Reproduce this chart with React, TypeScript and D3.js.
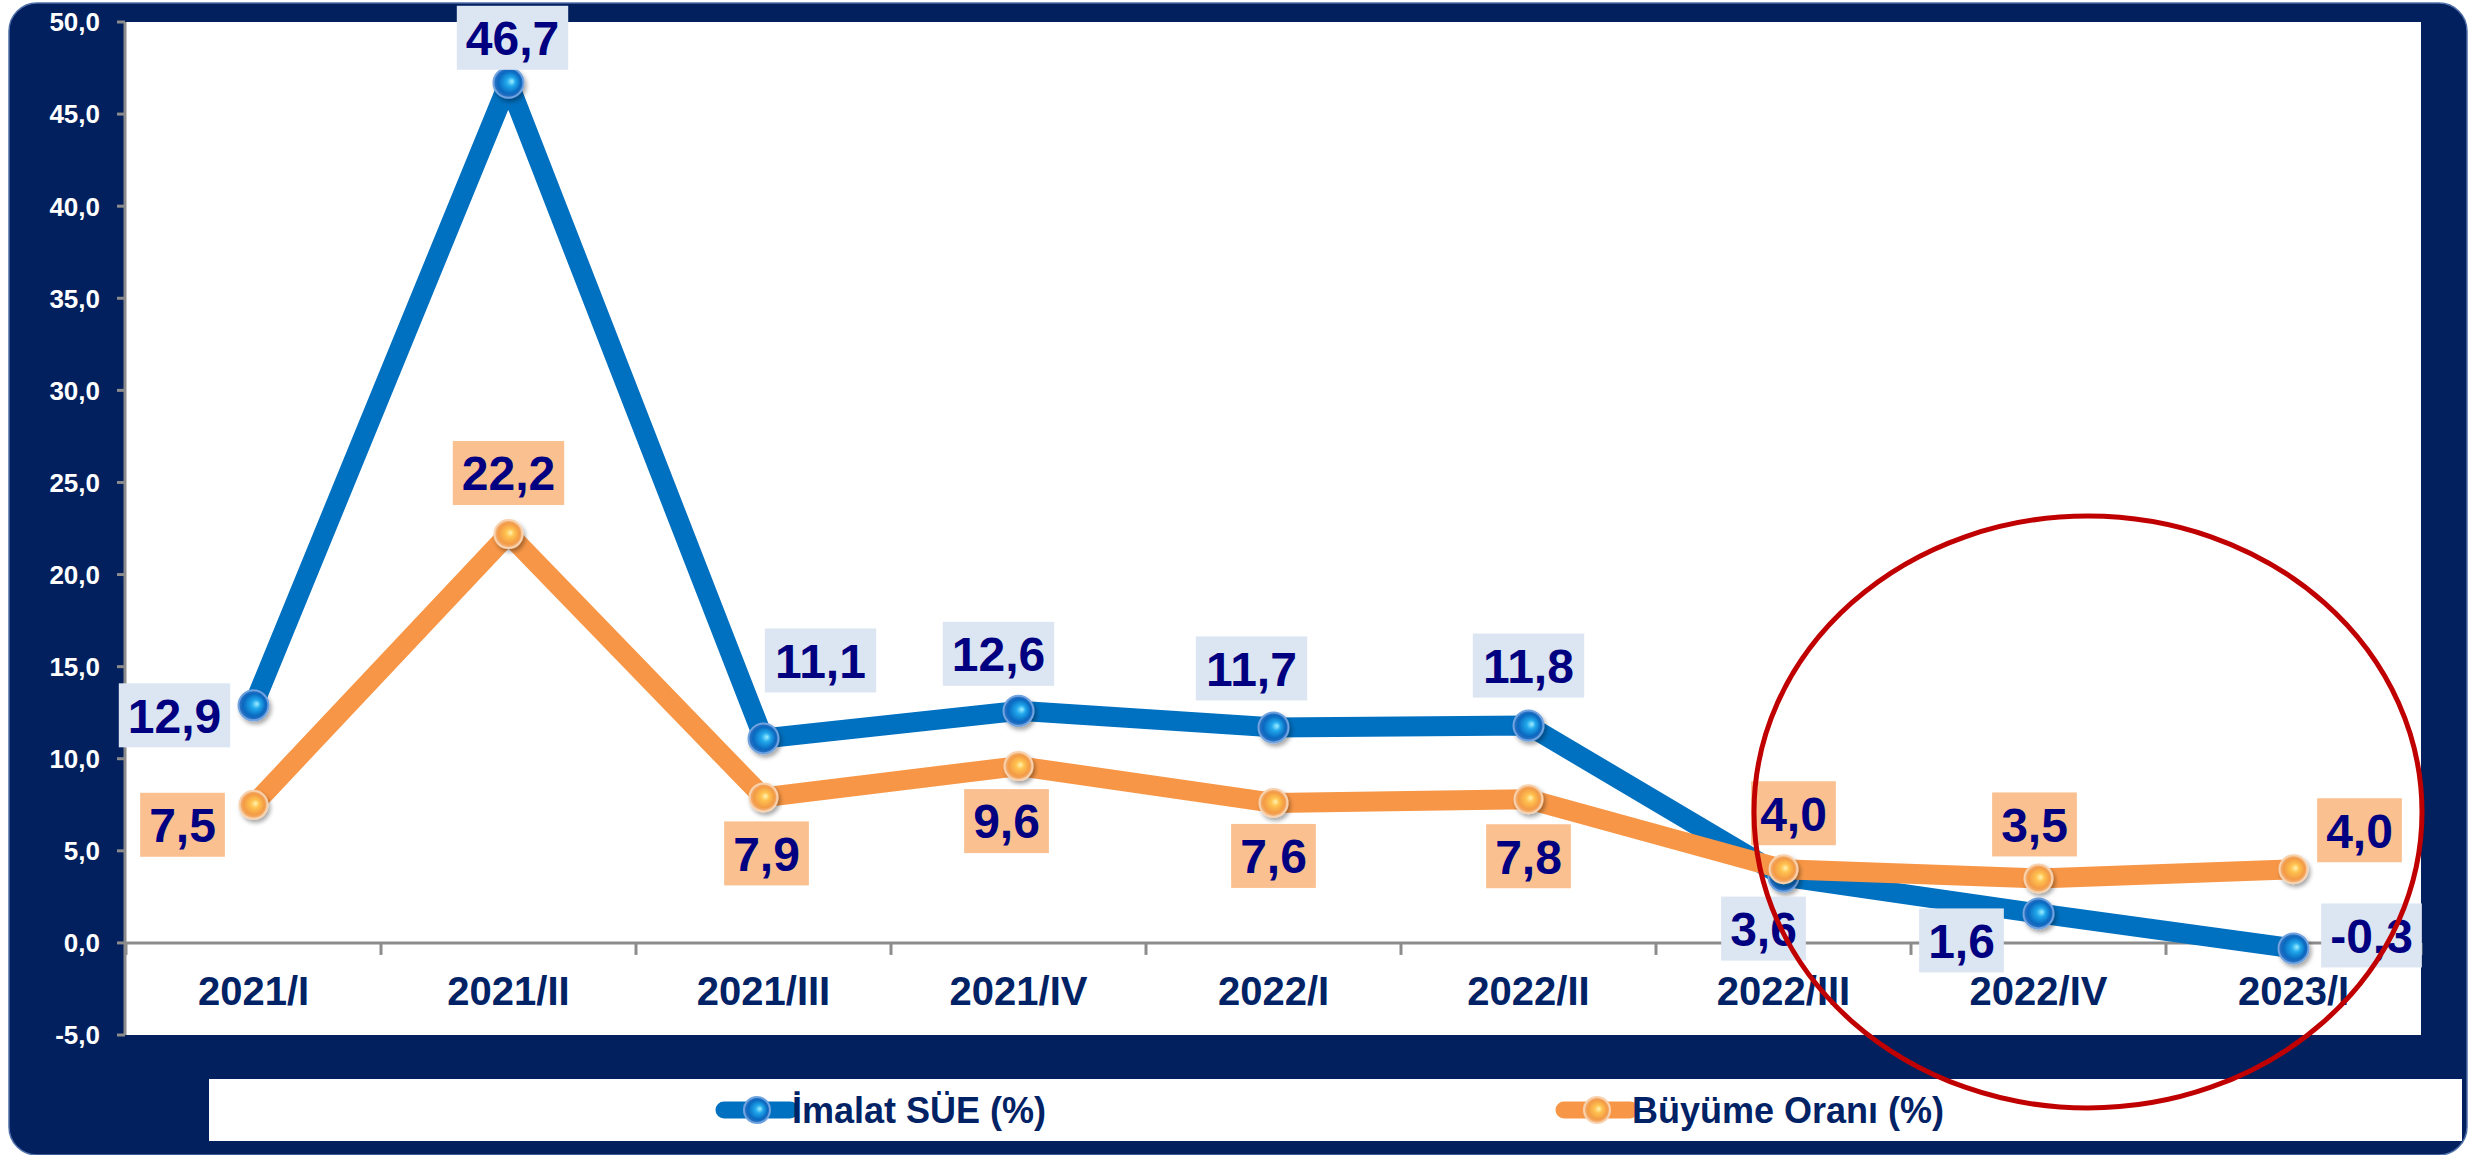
import React from 'react';
import * as d3 from 'd3';

const categories = ['2021/I', '2021/II', '2021/III', '2021/IV', '2022/I', '2022/II', '2022/III', '2022/IV', '2023/I'];
const imalatSUE = [12.9, 46.7, 11.1, 12.6, 11.7, 11.8, 3.6, 1.6, -0.3];
const buyumeOrani = [7.5, 22.2, 7.9, 9.6, 7.6, 7.8, 4.0, 3.5, 4.0];
const yTicks = [-5, 0, 5, 10, 15, 20, 25, 30, 35, 40, 45, 50];
const seriesNames = ['İmalat SÜE (%)', 'Büyüme Oranı (%)'];

// label box offsets from the point (layout only)
const imalatLabelOffsets = [[-79, 10], [4, -45], [57, -78], [-20, -57], [-22, -59], [0, -60], [-20, 52], [-77, 27], [78, -13]];
const buyumeLabelOffsets = [[-71, 20], [0, -61], [3, 56], [-12, 55], [0, 53], [0, 57], [10, -56], [-4, -54], [66, -39]];

const W = 2471;
const H = 1155;
const NAVY = '#021F5E';
const BLUE = '#0070C0';
const ORANGE = '#F79646';
const LABEL_TEXT = '#000080';
const FONT = '"Liberation Sans", Arial, sans-serif';

const fmt = (v: number) => d3.format('.1f')(v).replace('.', ',').replace('\u2212', '-');
const charW: Record<string, number> = { '-': 0.333, ',': 0.278 };
const textAdv = (s: string) => s.split('').reduce((a, c) => a + (charW[c] ?? 0.556), 0);

export default function App() {
  const x = d3.scaleBand<string>().domain(categories).range([126, 2421]);
  const y = d3.scaleLinear().domain([-5, 50]).range([1035, 22]);
  const bw = x.bandwidth();
  const cx = (c: string) => (x(c) as number) + bw / 2;

  const line = d3
    .line<number>()
    .x((_, i) => cx(categories[i]))
    .y((d) => y(d));

  const labelFs = 48;

  const renderLabels = (vals: number[], offs: number[][], fill: string, key: string) =>
    vals.map((v, i) => {
      const t = fmt(v);
      const px = cx(categories[i]) + offs[i][0];
      const py = y(v) + offs[i][1];
      const w = textAdv(t) * labelFs + 18;
      const h = 64;
      return (
        <g key={key + i}>
          <rect x={px - w / 2} y={py - h / 2} width={w} height={h} fill={fill} />
          <text
            x={px}
            y={py}
            dy="0.36em"
            textAnchor="middle"
            fontFamily={FONT}
            fontWeight="bold"
            fontSize={labelFs}
            fill={LABEL_TEXT}
          >
            {t}
          </text>
        </g>
      );
    });

  const bandEdges = categories.map((c) => x(c) as number).concat([x.range()[1]]);

  return (
    <svg width={W} height={H} style={{ position: 'absolute', left: 0, top: 0 }}>
      <defs>
        <radialGradient id="gBlue" cx="50%" cy="50%" r="50%" fx="62%" fy="45%">
          <stop offset="0%" stopColor="#9FEFFF" />
          <stop offset="30%" stopColor="#22A8EC" />
          <stop offset="75%" stopColor="#0868BF" />
          <stop offset="100%" stopColor="#3A74C4" />
        </radialGradient>
        <radialGradient id="gOrange" cx="50%" cy="50%" r="50%" fx="58%" fy="45%">
          <stop offset="0%" stopColor="#FFF4B0" />
          <stop offset="30%" stopColor="#FFC250" />
          <stop offset="75%" stopColor="#F39A45" />
          <stop offset="100%" stopColor="#F2B98A" />
        </radialGradient>
        <filter id="shadow" x="-50%" y="-50%" width="200%" height="200%">
          <feDropShadow dx="2" dy="3" stdDeviation="2" floodColor="#000" floodOpacity="0.35" />
        </filter>
      </defs>

      {/* frame */}
      <rect x={9} y={3} width={2458} height={1152} rx={28} ry={28} fill={NAVY} stroke="#4F6FA8" strokeWidth={1.5} />

      {/* plot area */}
      <rect x={126} y={22} width={2295} height={1013} fill="#FFFFFF" />

      {/* legend box */}
      <rect x={209} y={1079} width={2253} height={62} fill="#FFFFFF" />

      {/* y axis */}
      <line x1={125} x2={125} y1={y(50)} y2={y(-5)} stroke="#8C8C8C" strokeWidth={3} />
      {yTicks.map((t) => (
        <g key={'yt' + t}>
          <line x1={117} x2={125} y1={y(t)} y2={y(t)} stroke="#8C8C8C" strokeWidth={3} />
          <text
            x={100}
            y={y(t)}
            dy="0.36em"
            textAnchor="end"
            fontFamily={FONT}
            fontWeight="bold"
            fontSize={26}
            fill="#FFFFFF"
          >
            {fmt(t)}
          </text>
        </g>
      ))}

      {/* zero axis line */}
      <line x1={125} x2={2421} y1={y(0)} y2={y(0)} stroke="#8C8C8C" strokeWidth={3} />
      {bandEdges.map((e, i) => (
        <line key={'xt' + i} x1={e} x2={e} y1={y(0)} y2={y(0) + 12} stroke="#8C8C8C" strokeWidth={3} />
      ))}
      {categories.map((c) => (
        <text
          key={'xl' + c}
          x={cx(c)}
          y={1005}
          textAnchor="middle"
          fontFamily={FONT}
          fontWeight="bold"
          fontSize={40}
          fill="#022266"
        >
          {c}
        </text>
      ))}

      {/* series lines */}
      <path d={line(imalatSUE) as string} fill="none" stroke={BLUE} strokeWidth={20} strokeLinejoin="round" />
      {imalatSUE.map((v, i) => (
        <circle
          key={'bm' + i}
          cx={cx(categories[i])}
          cy={y(v)}
          r={15}
          fill="url(#gBlue)"
          stroke="#6FA3E0"
          strokeWidth={2}
          filter="url(#shadow)"
        />
      ))}
      <path d={line(buyumeOrani) as string} fill="none" stroke={ORANGE} strokeWidth={20} strokeLinejoin="round" />
      {buyumeOrani.map((v, i) => (
        <circle
          key={'om' + i}
          cx={cx(categories[i])}
          cy={y(v)}
          r={14}
          fill="url(#gOrange)"
          stroke="#F8D2AE"
          strokeWidth={2}
          filter="url(#shadow)"
        />
      ))}

      {/* data labels */}
      {renderLabels(imalatSUE, imalatLabelOffsets, '#DCE6F2', 'bl')}
      {renderLabels(buyumeOrani, buyumeLabelOffsets, '#FAC090', 'ol')}

      {/* legend */}
      {[
        { name: seriesNames[0], color: BLUE, grad: 'url(#gBlue)', ring: '#6FA3E0', mx: 757 },
        { name: seriesNames[1], color: ORANGE, grad: 'url(#gOrange)', ring: '#F8D2AE', mx: 1597 },
      ].map((l) => (
        <g key={'lg' + l.name}>
          <line x1={l.mx - 33} x2={l.mx + 33} y1={1110} y2={1110} stroke={l.color} strokeWidth={17} strokeLinecap="round" />
          <circle cx={l.mx} cy={1110} r={13} fill={l.grad} stroke={l.ring} strokeWidth={2} />
          <text
            x={l.mx + 35}
            y={1110}
            dy="0.36em"
            fontFamily={FONT}
            fontWeight="bold"
            fontSize={36}
            fill="#022266"
          >
            {l.name}
          </text>
        </g>
      ))}

      {/* highlight ellipse */}
      <ellipse cx={2088} cy={812} rx={334} ry={296} fill="none" stroke="#C00000" strokeWidth={5} />
    </svg>
  );
}
